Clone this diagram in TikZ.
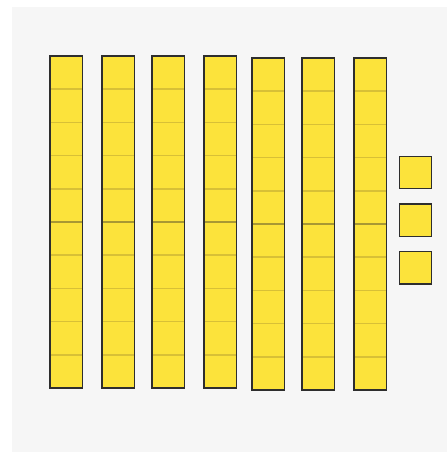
\documentclass[tikz,border=0pt]{standalone}
\usepackage{xcolor}
\usepackage{tikz}
\usetikzlibrary{calc, positioning}

\definecolor{blockyellow}{HTML}{FCE33B}
\definecolor{tenthline}{HTML}{D8C036}
\definecolor{halfline}{HTML}{A89833}
\definecolor{blockedge}{HTML}{2E2E2E}
\definecolor{boardgray}{HTML}{F6F6F6}

\begin{document}
\begin{tikzpicture}[x=1pt, y=-1pt,
    rodfill/.style={fill=blockyellow},
    tenth/.style={draw=tenthline, line width=1.7pt},
    half/.style={draw=halfline, line width=1.7pt},
    edge/.style={draw=blockedge, line width=1.4pt}]
    \useasboundingbox (0,0) rectangle (447,452);
    \fill[boardgray] (12,7) rectangle (447,452);
    % rods of ten
    \foreach \x/\y in {50/56, 102/56, 152/56, 204/56, 252/58, 302/58, 354/58} {
        \fill[rodfill] (\x,\y) rectangle ++(32.5,332);
        \foreach \k in {1,...,9} {
            \ifnum\k=5
                \draw[half] (\x,\y+33.2*\k) -- ++(32.5,0);
            \else
                \draw[tenth] (\x,\y+33.2*\k) -- ++(32.5,0);
            \fi
        }
        \draw[edge] (\x,\y) rectangle ++(32.5,332);
    }
    % single units
    \foreach \y in {156.3, 204, 251.7} {
        \draw[rodfill, edge] (399.3,\y) rectangle ++(32.4,32.4);
    }
\end{tikzpicture}
\end{document}
